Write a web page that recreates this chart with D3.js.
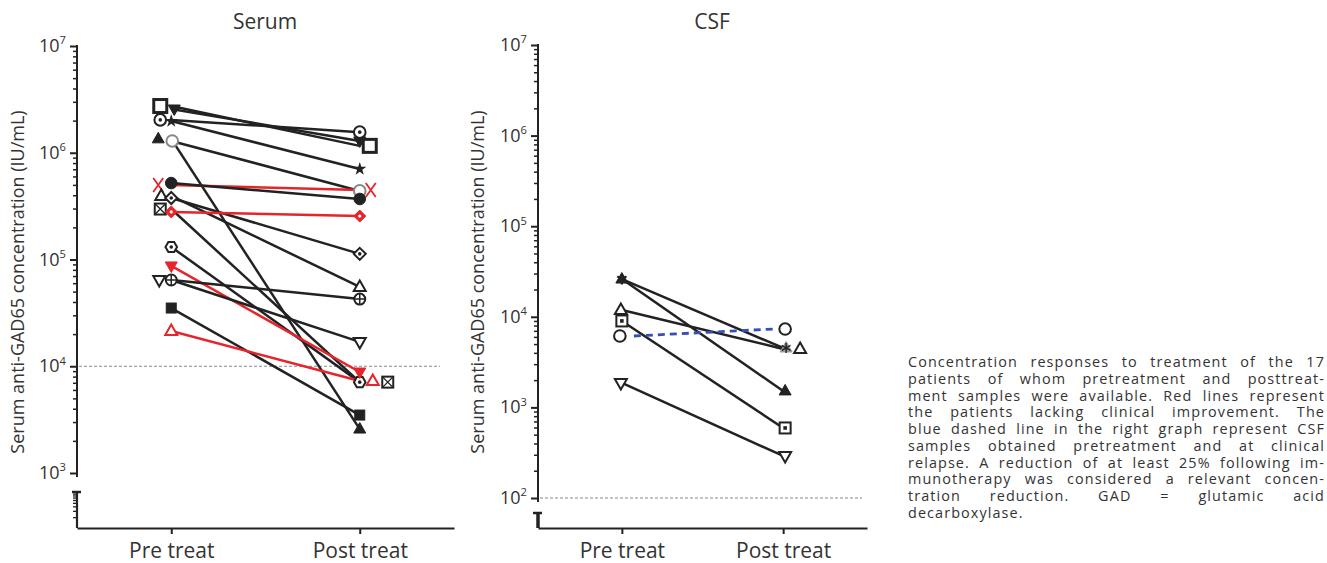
<!DOCTYPE html>
<html>
<head>
<meta charset="UTF-8">
<title>Anti-GAD65 concentration pre and post treatment</title>
<script src="https://cdn.jsdelivr.net/npm/d3@7"></script>
<style>
  body { margin: 0; background: #fff; }
  text { font-family: "Open Sans", "Noto Sans", sans-serif; fill: #333; }
</style>
</head>
<body>
<svg id="chart" width="1327" height="563"></svg>
<script>
  // time points on the x axis
  const timepoints = ["Pre treat", "Post treat"];

  // Serum, one entry per patient (IU/mL)
  const serumPre = [2.74e6, 2.57e6, 2.03e6, 1.98e6, 1.35e6, 1.29e6, 4.99e5, 5.2e5, 3.94e5,
    3.77e5, 2.97e5, 2.79e5, 1.31e5, 8.7e4, 6.43e4, 6.43e4, 3.51e4, 2.14e4];
  const serumPost = [1.16e6, 1.29e6, 1.56e6, 7.04e5, 2.58e3, 4.39e5, 4.48e5, 3.69e5, 5.53e4,
    1.13e5, 7.1e3, 2.55e5, 7.1e3, 8.83e3, 1.69e4, 4.26e4, 3.49e3, 7.27e3];
  const serumMarker = ["squareBig", "triDownFill", "circleDot", "star", "triUpFill", "circleGray",
    "x", "circleFill", "triUp", "diamondDot", "squareX", "diamondFill", "hexDot", "triDownFill",
    "triDown", "circlePlus", "squareFill", "triUp"];
  // 1 = no clinical improvement (red)
  const serumNoImprove = [0, 0, 0, 0, 0, 0, 1, 0, 0, 0, 0, 1, 0, 1, 0, 0, 0, 1];

  // CSF, one entry per patient (IU/mL)
  const csfPre = [2.61e4, 2.61e4, 1.19e4, 9.0e3, 6.14e3, 1.86e3];
  const csfPost = [4.53e3, 1.52e3, 4.42e3, 593, 7.33e3, 291];
  const csfMarker = ["asteriskGray", "triUpFill", "triUp", "squareDot", "circle", "triDown"];
  // 1 = second sample taken at clinical relapse (blue dashed)
  const csfRelapse = [0, 0, 0, 0, 1, 0];

  const serumThreshold = 1e4;
  const csfThreshold = 1e2;

  const caption = [
    "Concentration responses to treatment of the 17",
    "patients of whom pretreatment and posttreat-",
    "ment samples were available. Red lines represent",
    "the patients lacking clinical improvement. The",
    "blue dashed line in the right graph represent CSF",
    "samples obtained pretreatment and at clinical",
    "relapse. A reduction of at least 25% following im-",
    "munotherapy was considered a relevant concen-",
    "tration reduction. GAD = glutamic acid",
    "decarboxylase."
  ];

  const svg = d3.select("#chart");
  const ink = "#222";
  const red = "#e5242b";
  const blue = "#3550b4";

  // little nudges so overlapping markers sit side by side, like the original
  const serumPreNudge = [-11, 3, -11, 0, -13, 1, -13, 0, -10, 0, -11, 0, 0, 0, -12, 0, 0, 0];
  const serumPostNudge = [10, 0, 0, 0, 0, 0, 11, 0, 0, 0, 28, 0, 0, 0, 0, 0, 0, 13];
  const csfPreNudge = [0, 0, -1, 0, -2, -1];
  const csfPostNudge = [3, 2, 17, 2, 2, 2];

  function marker(g, type, cx, cy, color) {
    const m = g.append("g").attr("transform", `translate(${cx},${cy})`);
    const sw = 2;
    const open = (sel) => sel.attr("fill", "#fff").attr("stroke", color).attr("stroke-width", sw);
    const solid = (sel) => sel.attr("fill", color).attr("stroke", color).attr("stroke-width", 1);
    const dot = () => m.append("circle").attr("r", 1.8).attr("fill", color);
    const triUp = "M0,-6.5L6,4L-6,4Z";
    const triDown = "M0,6.5L6,-4L-6,-4Z";
    const diamond = "M0,-6L6,0L0,6L-6,0Z";
    const hex = d3.range(6).map(i => {
      const a = Math.PI / 3 * i;
      return [5.8 * Math.cos(a), 5.8 * Math.sin(a)];
    });
    switch (type) {
      case "squareBig":
        m.append("rect").attr("x", -6.5).attr("y", -6.5).attr("width", 13).attr("height", 13)
          .attr("fill", "#fff").attr("stroke", color).attr("stroke-width", 3);
        break;
      case "squareFill":
        solid(m.append("rect").attr("x", -5).attr("y", -5).attr("width", 10).attr("height", 10));
        break;
      case "squareX":
        open(m.append("rect").attr("x", -5.5).attr("y", -5.5).attr("width", 11).attr("height", 11));
        m.append("path").attr("d", "M-5,-5L5,5M5,-5L-5,5").attr("stroke", color).attr("stroke-width", 1.4);
        break;
      case "squareDot":
        open(m.append("rect").attr("x", -5.5).attr("y", -5.5).attr("width", 11).attr("height", 11));
        m.append("rect").attr("x", -1.8).attr("y", -1.8).attr("width", 3.6).attr("height", 3.6).attr("fill", color);
        break;
      case "circle":
        open(m.append("circle").attr("r", 5.8));
        break;
      case "circleGray":
        m.append("circle").attr("r", 5.8).attr("fill", "#fff").attr("stroke", "#888").attr("stroke-width", sw);
        break;
      case "circleFill":
        solid(m.append("circle").attr("r", 5.8));
        break;
      case "circleDot":
        open(m.append("circle").attr("r", 5.8));
        dot();
        break;
      case "circlePlus":
        open(m.append("circle").attr("r", 5.5));
        m.append("path").attr("d", "M-5.5,0L5.5,0M0,-5.5L0,5.5").attr("stroke", color).attr("stroke-width", 1.5);
        break;
      case "hexDot":
        open(m.append("path").attr("d", d3.line()(hex) + "Z"));
        dot();
        break;
      case "triUp":
        open(m.append("path").attr("d", triUp));
        break;
      case "triUpFill":
        solid(m.append("path").attr("d", triUp));
        break;
      case "triDown":
        open(m.append("path").attr("d", triDown));
        break;
      case "triDownFill":
        solid(m.append("path").attr("d", triDown));
        break;
      case "diamondDot":
        open(m.append("path").attr("d", diamond));
        dot();
        break;
      case "diamondFill":
        solid(m.append("path").attr("d", diamond));
        m.append("circle").attr("r", 1.6).attr("fill", "#fff");
        break;
      case "star":
        m.append("path").attr("d", d3.symbol(d3.symbolStar, 55)()).attr("fill", color);
        break;
      case "x":
        m.append("path").attr("d", "M-5,-7L5,7M5,-7L-5,7").attr("stroke", color).attr("stroke-width", 1.8).attr("fill", "none");
        break;
      case "asteriskGray":
        m.append("path").attr("d", triUp).attr("fill", "#999").attr("stroke", "#999");
        m.append("path").attr("d", d3.symbol(d3.symbolAsterisk, 70)()).attr("stroke", "#222")
          .attr("stroke-width", 1.4).attr("fill", "none");
        break;
    }
  }

  function tenLabel(g, x, y, exp, size) {
    const t = g.append("text").attr("x", x).attr("y", y).attr("text-anchor", "end")
      .attr("font-size", size);
    t.append("tspan").text("10");
    t.append("tspan").attr("dy", -size * 0.42).attr("font-size", size * 0.62).text(exp);
  }

  // one panel: y axis with a break, x axis, threshold line, patient lines and markers
  function panel(o) {
    const g = svg.append("g");
    const y = d3.scaleLog().domain(o.domain).range([o.yBottom, o.yTop]);
    const x = d3.scalePoint().domain(timepoints).range([o.axisX, o.xEnd]).padding(o.pad);

    const lo = Math.log10(o.domain[0]), hi = Math.log10(o.domain[1]);
    const majors = d3.range(lo, hi + 1).map(e => Math.pow(10, e));
    const minors = [];
    majors.slice(0, -1).forEach(m => { for (let k = 2; k < 10; k++) minors.push(m * k); });

    // minor ticks
    const minorAxis = g.append("g").attr("transform", `translate(${o.axisX},0)`)
      .call(d3.axisLeft(y).tickValues(minors).tickSize(4).tickFormat(""));
    minorAxis.select(".domain").remove();
    minorAxis.selectAll("line").attr("stroke", ink).attr("stroke-width", 1.5);

    const majorAxis = g.append("g").attr("transform", `translate(${o.axisX},0)`)
      .call(d3.axisLeft(y).tickValues(majors).tickSize(7).tickFormat(""));
    majorAxis.select(".domain").remove();
    majorAxis.selectAll("line").attr("stroke", ink).attr("stroke-width", 2);

    g.append("line").attr("x1", o.axisX).attr("x2", o.axisX)
      .attr("y1", y(o.domain[1]) - 1).attr("y2", y(o.domain[0]) + 4)
      .attr("stroke", ink).attr("stroke-width", 2);

    majors.forEach((m, i) => tenLabel(g, o.axisX - 11, y(m) + 6, lo + i, 18));

    // lower piece below the axis break
    const brk = d3.scaleLog().domain([1, 10]).range([o.xAxisY, o.breakTop]);
    if (o.breakTicks) {
      const ba = g.append("g").attr("transform", `translate(${o.axisX},0)`)
        .call(d3.axisLeft(brk).tickValues(d3.range(2, 10)).tickSize(4).tickFormat(""));
      ba.select(".domain").remove();
      ba.selectAll("line").attr("stroke", ink).attr("stroke-width", 1.3);
    }
    g.append("line").attr("x1", o.axisX).attr("x2", o.axisX)
      .attr("y1", o.breakTop).attr("y2", o.xAxisY)
      .attr("stroke", ink).attr("stroke-width", o.breakWidth);
    g.append("line").attr("x1", o.axisX - 5).attr("x2", o.axisX + 4)
      .attr("y1", o.breakTop).attr("y2", o.breakTop)
      .attr("stroke", ink).attr("stroke-width", 2.5);

    // x axis
    const xa = g.append("g").attr("transform", `translate(0,${o.xAxisY})`)
      .call(d3.axisBottom(x).tickSize(6).tickSizeOuter(0).tickPadding(9));
    xa.select(".domain").attr("stroke", ink).attr("stroke-width", 2);
    xa.selectAll("line").attr("stroke", ink).attr("stroke-width", 2);
    xa.selectAll("text").attr("font-size", 21).attr("fill", "#333")
      .attr("font-family", "'Open Sans', 'Noto Sans', sans-serif");

    // threshold
    g.append("line").attr("x1", o.axisX + 2).attr("x2", o.threshEnd)
      .attr("y1", y(o.threshold)).attr("y2", y(o.threshold))
      .attr("stroke", "#888").attr("stroke-width", 1.2).attr("stroke-dasharray", "3,2");

    // titles
    g.append("text").attr("x", o.titleX).attr("y", 29).attr("text-anchor", "middle")
      .attr("font-size", 21).text(o.title);
    g.append("text").attr("transform", `translate(${o.yTitleX},${o.yTitleY}) rotate(-90)`)
      .attr("text-anchor", "middle").attr("font-size", 18)
      .text("Serum anti-GAD65 concentration (IU/mL)");

    // patient lines
    const xPre = x(timepoints[0]), xPost = x(timepoints[1]);
    const lines = g.append("g");
    o.pre.forEach((v, i) => {
      const dashed = o.dashed && o.dashed[i];
      lines.append("line")
        .attr("x1", xPre + (dashed ? 12 : 0)).attr("x2", xPost - (dashed ? 10 : 0))
        .attr("y1", y(v)).attr("y2", y(o.post[i]))
        .attr("stroke", dashed ? blue : (o.red && o.red[i] ? red : ink))
        .attr("stroke-width", dashed ? 2.8 : 2.5)
        .attr("stroke-dasharray", dashed ? "7,5" : null);
    });
    const marks = g.append("g");
    o.pre.forEach((v, i) => {
      const c = o.red && o.red[i] ? red : ink;
      marker(marks, o.markers[i], xPost + o.postNudge[i], y(o.post[i]), c);
    });
    o.pre.forEach((v, i) => {
      const c = o.red && o.red[i] ? red : ink;
      const t = o.markers[i] === "asteriskGray" ? "asterisk" : o.markers[i];
      marker(marks, t === "asterisk" ? "star4" : t, xPre + o.preNudge[i], y(v), c);
    });
    return { g, x, y };
  }

  panel({
    title: "Serum", titleX: 265, yTitleX: 24, yTitleY: 282,
    domain: [1e3, 1e7], yBottom: 473, yTop: 46,
    axisX: 77, xEnd: 454, pad: 0.5, xAxisY: 528, breakTop: 492, breakTicks: true, breakWidth: 2.2,
    threshold: serumThreshold, threshEnd: 440,
    pre: serumPre, post: serumPost, markers: serumMarker, red: serumNoImprove,
    preNudge: serumPreNudge, postNudge: serumPostNudge
  });

  const csf = panel({
    title: "CSF", titleX: 712, yTitleX: 484, yTitleY: 282,
    domain: [1e2, 1e7], yBottom: 498, yTop: 45,
    axisX: 538, xEnd: 867, pad: 0.52, xAxisY: 528, breakTop: 513, breakTicks: false, breakWidth: 3.5,
    threshold: csfThreshold, threshEnd: 862,
    pre: csfPre, post: csfPost, markers: csfMarker, dashed: csfRelapse,
    preNudge: csfPreNudge, postNudge: csfPostNudge
  });
  // the pre-treatment asterisk in CSF is drawn solid black
  csf.g.append("path")
    .attr("transform", `translate(${csf.x(timepoints[0]) + csfPreNudge[0]},${csf.y(csfPre[0])})`)
    .attr("d", d3.symbol(d3.symbolAsterisk, 80)())
    .attr("stroke", ink).attr("stroke-width", 2.2).attr("fill", "none");

  // caption, justified line by line
  const capX = 908, capW = 417, capY = 367, capLead = 16.75;
  const cap = svg.append("g");
  caption.forEach((line, i) => {
    const t = cap.append("text").attr("x", capX).attr("y", capY + i * capLead)
      .attr("font-size", 14.4).attr("letter-spacing", 1.1).attr("fill", "#1a1a1a").text(line);
    if (i < caption.length - 1) {
      const spaces = (line.match(/ /g) || []).length;
      const extra = capW - t.node().getComputedTextLength();
      if (spaces > 0) t.attr("word-spacing", extra / spaces);
    }
  });
</script>
</body>
</html>
